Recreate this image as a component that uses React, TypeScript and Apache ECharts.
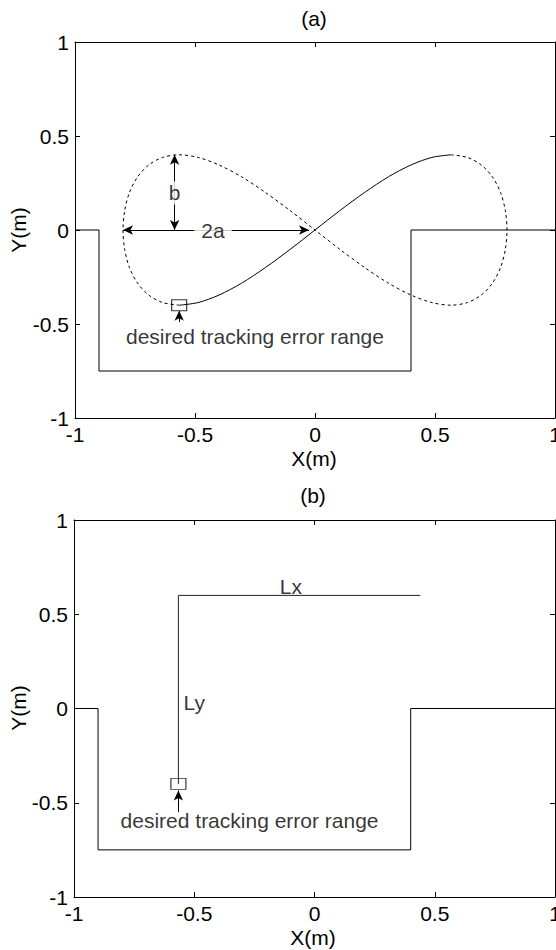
import React, { useEffect, useRef } from "react";
import * as echarts from "echarts";

const FONT = '"Liberation Sans", Arial, Helvetica, sans-serif';
const FS = 21;

// axis ticks (both panels)
const axisMin = -1;
const axisMax = 1;
const axisInterval = 0.5;

// stepped path (both panels)
const stepX = [-1, -0.9, -0.9, 0.4, 0.4, 1];
const stepY = [0, 0, -0.75, -0.75, 0, 0];

// figure-eight, solid portion (panel a)
const eightSolidX = [-0.566, -0.487, -0.4, -0.306, -0.207, -0.104, 0, 0.104, 0.207, 0.306, 0.4, 0.487, 0.566];
const eightSolidY = [-0.4, -0.386, -0.346, -0.283, -0.2, -0.1035, 0, 0.1035, 0.2, 0.283, 0.346, 0.386, 0.4];

// figure-eight, dashed portion (panel a)
const eightDashX = [
  0.566, 0.635, 0.693, 0.739, 0.773, 0.793, 0.8, 0.793, 0.773, 0.739, 0.693, 0.635,
  0.566, 0.487, 0.4, 0.306, 0.207, 0.104, 0, -0.104, -0.207, -0.306, -0.4, -0.487,
  -0.566, -0.635, -0.693, -0.739, -0.773, -0.793, -0.8, -0.793, -0.773, -0.739, -0.693, -0.635, -0.566,
];
const eightDashY = [
  0.4, 0.386, 0.346, 0.283, 0.2, 0.1035, 0, -0.1035, -0.2, -0.283, -0.346, -0.386,
  -0.4, -0.386, -0.346, -0.283, -0.2, -0.1035, 0, 0.1035, 0.2, 0.283, 0.346, 0.386,
  0.4, 0.386, 0.346, 0.283, 0.2, 0.1035, 0, -0.1035, -0.2, -0.283, -0.346, -0.386, -0.4,
];

// L-shaped path (panel b)
const lPathX = [-0.566, -0.566, 0.44];
const lPathY = [-0.4, 0.6, 0.6];

// box (tracking error range) position
const boxPoint = [-0.566, -0.4];

// annotations panel a
const dimB = { x: -0.585, y0: 0, y1: 0.4 };
const dim2a = { x0: -0.8, x1: -0.025, y: 0 };
const arrowA = { x: -0.566, y0: -0.49, y1: -0.43 };
const textA = [
  { name: "b", value: [-0.585, 0.197], bg: "b" },
  { name: "2a", value: [-0.425, 0], bg: "h" },
  { name: "desired tracking error range", value: [-0.25, -0.567], bg: "" },
];

// annotations panel b
const arrowB = { x: -0.566, y0: -0.55, y1: -0.435 };
const textB = [
  { name: "Lx", value: [-0.098, 0.647], bg: "" },
  { name: "Ly", value: [-0.5, 0.03], bg: "" },
  { name: "desired tracking error range", value: [-0.27, -0.594], bg: "" },
];

const zip = (xs: number[], ys: number[]) => xs.map((x, i) => [x, ys[i]]);

function axesFor(gridIndex: number) {
  const common = {
    type: "value" as const,
    gridIndex,
    min: axisMin,
    max: axisMax,
    interval: axisInterval,
    splitLine: { show: false },
    axisLine: { show: true, onZero: false, lineStyle: { color: "#000", width: 1 } },
    axisTick: { show: true, inside: true, length: 5, lineStyle: { color: "#000", width: 1 } },
  };
  const label = {
    show: true,
    color: "#000",
    fontSize: FS,
    fontFamily: FONT,
    margin: 6,
    hideOverlap: false,
    formatter: (v: number) => String(v),
  };
  return {
    x: [
      { ...common, position: "bottom", axisLabel: label },
      { ...common, position: "top", axisLabel: { show: false } },
    ],
    y: [
      { ...common, position: "left", axisLabel: label },
      { ...common, position: "right", axisLabel: { show: false } },
    ],
  };
}

function textSeries(items: { name: string; value: number[]; bg: string }[], xi: number, yi: number) {
  return {
    type: "scatter",
    xAxisIndex: xi,
    yAxisIndex: yi,
    z: 10,
    symbolSize: 0,
    silent: true,
    itemStyle: { color: "rgba(0,0,0,0)" },
    label: {
      show: true,
      position: "inside",
      formatter: "{b}",
      color: "#000",
      fontSize: FS,
      fontFamily: FONT,
    },
    data: items.map((it) => ({
      name: it.name,
      value: it.value,
      label:
        it.bg === "h"
          ? { backgroundColor: "#fff", padding: [0, 7] }
          : it.bg === "b"
          ? { backgroundColor: "#fff", padding: [1, 0] }
          : {},
    })),
  };
}

function boxSeries(xi: number, yi: number) {
  return {
    type: "scatter",
    xAxisIndex: xi,
    yAxisIndex: yi,
    z: 8,
    symbol: "rect",
    symbolSize: [15, 11],
    silent: true,
    itemStyle: { color: "rgba(0,0,0,0)", borderColor: "#000", borderWidth: 1 },
    data: [boxPoint],
  };
}

const mlBase = {
  silent: true,
  animation: false,
  symbol: ["arrow", "arrow"],
  symbolSize: [7, 10],
  lineStyle: { color: "#000", width: 1, type: "solid" },
  label: { show: false },
  emphasis: { disabled: true },
};

const titleStyle = (text: string) => ({
  text,
  fontSize: FS,
  fontFamily: FONT,
  fill: "#000",
  align: "center",
  verticalAlign: "middle",
});

export default function App() {
  const ref = useRef<HTMLDivElement>(null);
  useEffect(() => {
    if (!ref.current) return;
    const chart = echarts.init(ref.current, undefined, { renderer: "svg" });
    const a0 = axesFor(0);
    const a1 = axesFor(1);
    const option: any = {
      animation: false,
      backgroundColor: "#fff",
      grid: [
        { left: 75, top: 42, width: 480, height: 376, outerBoundsMode: "none", containLabel: false },
        { left: 74, top: 520, width: 481, height: 377, outerBoundsMode: "none", containLabel: false },
      ],
      xAxis: [...a0.x, ...a1.x],
      yAxis: [...a0.y, ...a1.y],
      graphic: [
        { type: "text", x: 314, y: 18, style: titleStyle("(a)") },
        { type: "text", x: 314, y: 458, style: titleStyle("X(m)") },
        { type: "text", x: 18, y: 230, rotation: Math.PI / 2, style: titleStyle("Y(m)") },
        { type: "text", x: 313, y: 495, style: titleStyle("(b)") },
        { type: "text", x: 313, y: 937, style: titleStyle("X(m)") },
        { type: "text", x: 18, y: 708, rotation: Math.PI / 2, style: titleStyle("Y(m)") },
      ],
      series: [
        // ----- panel a -----
        {
          type: "line",
          xAxisIndex: 0,
          yAxisIndex: 0,
          z: 2,
          showSymbol: false,
          silent: true,
          data: zip(stepX, stepY),
          lineStyle: { color: "#000", width: 1 },
          markLine: {
            ...mlBase,
            data: [
              [{ coord: [dimB.x, dimB.y0] }, { coord: [dimB.x, dimB.y1] }],
              [{ coord: [dim2a.x0, dim2a.y] }, { coord: [dim2a.x1, dim2a.y] }],
              [
                { coord: [arrowA.x, arrowA.y0], symbol: "none" },
                { coord: [arrowA.x, arrowA.y1], symbol: "arrow" },
              ],
            ],
          },
        },
        {
          type: "line",
          xAxisIndex: 0,
          yAxisIndex: 0,
          showSymbol: false,
          silent: true,
          smooth: 0.3,
          data: zip(eightSolidX, eightSolidY),
          lineStyle: { color: "#000", width: 1 },
        },
        {
          type: "line",
          xAxisIndex: 0,
          yAxisIndex: 0,
          showSymbol: false,
          silent: true,
          smooth: 0.3,
          data: zip(eightDashX, eightDashY),
          lineStyle: { color: "#000", width: 1, type: [3, 3] },
        },
        boxSeries(0, 0),
        textSeries(textA, 0, 0),
        // ----- panel b -----
        {
          type: "line",
          xAxisIndex: 2,
          yAxisIndex: 2,
          z: 2,
          showSymbol: false,
          silent: true,
          data: zip(stepX, stepY),
          lineStyle: { color: "#000", width: 1 },
          markLine: {
            ...mlBase,
            data: [
              [
                { coord: [arrowB.x, arrowB.y0], symbol: "none" },
                { coord: [arrowB.x, arrowB.y1], symbol: "arrow" },
              ],
            ],
          },
        },
        {
          type: "line",
          xAxisIndex: 2,
          yAxisIndex: 2,
          showSymbol: false,
          silent: true,
          data: zip(lPathX, lPathY),
          lineStyle: { color: "#222", width: 1 },
        },
        boxSeries(2, 2),
        textSeries(textB, 2, 2),
      ],
    };
    chart.setOption(option);
    return () => chart.dispose();
  }, []);
  return (
    <div
      ref={ref}
      style={{ position: "absolute", left: 0, top: 0, width: 556, height: 950 }}
    />
  );
}
